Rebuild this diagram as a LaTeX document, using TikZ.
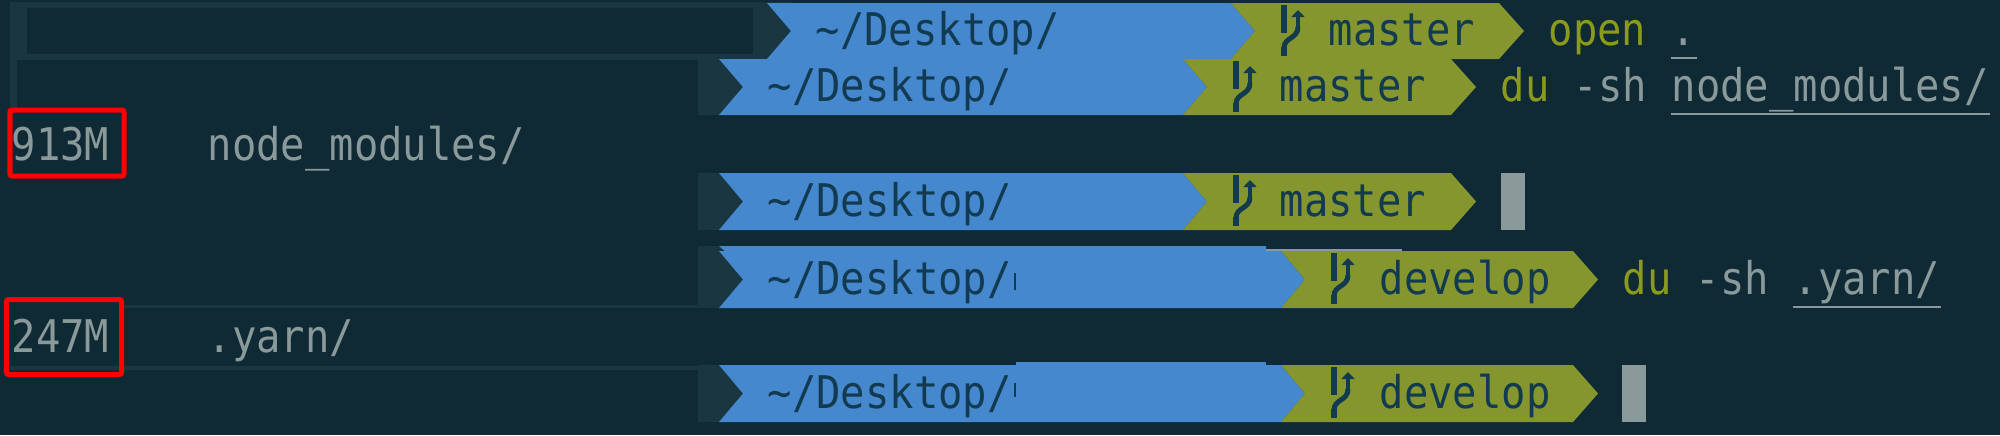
\documentclass[tikz,border=0pt]{standalone}
\usepackage{xcolor}
\usepackage{fontspec}
\setmonofont[FakeStretch=0.9]{DejaVu Sans Mono}
\usetikzlibrary{arrows.meta,calc}
\definecolor{termbg}{HTML}{0F2A35}
\definecolor{termband}{HTML}{1A3640}
\definecolor{dirblue}{HTML}{4688CE}
\definecolor{gitolive}{HTML}{86962E}
\definecolor{barink}{HTML}{123A50}
\definecolor{termgrey}{HTML}{8A9A9B}
\definecolor{cmdolive}{HTML}{8A9A1A}

\begin{document}
\begin{tikzpicture}[
    x=0.01cm, y=-0.01cm,
    termtext/.style={inner sep=0pt, anchor=base west, font=\ttfamily\fontsize{12.8}{15}\selectfont},
    plainout/.style={termtext, text=termgrey},
    cmdword/.style={termtext, text=cmdolive},
    bartext/.style={termtext, text=barink},
    bandfill/.style={fill=termband},
    underln/.style={draw=termgrey, line width=0.02cm},
    redbox/.style={draw=red, line width=0.05cm, rounded corners=0.02cm},
    branchup/.style={draw=barink, line width=0.04cm, -{Triangle[width=0.13cm,length=0.07cm]}},
    branchfat/.style={draw=barink, line width=0.06cm},
    branchbend/.style={draw=barink, line width=0.05cm}
]
    \fill [termbg] (0,0) rectangle (2000,435);
    \useasboundingbox (0,0) rectangle (2000,435);

    \fill [bandfill] (10,2) rectangle (792,60);
    \fill [termbg] (27,8) rectangle (753,54);
    \fill [bandfill] (10,60) rectangle (17,108);
    \fill [bandfill] (698,60) rectangle (743,115);
    \fill [bandfill] (698,173) rectangle (743,230);
    \fill [bandfill] (698,246) rectangle (743,308);
    \fill [bandfill] (698,365) rectangle (743,422);
    \fill [bandfill] (124,305) rectangle (719,308);
    \fill [bandfill] (10,366) rectangle (719,370);

    \foreach \n/\t/\b/\xa/\xb/\xc/\xp/\xt/\lbl in {
        1/3/59/767/1231/1499/815/1328/master,
        2/59/115/719/1183/1451/767/1279/master,
        3/173/230/719/1183/1451/767/1279/master,
        4/251/308/719/1281/1573/767/1379/develop,
        5/365/422/719/1281/1573/767/1379/develop} {
        \fill [dirblue] (\xa,\t) -- (\xb,\t) -- ({\xb+24},{(\t+\b)/2}) -- (\xb,\b) -- (\xa,\b) -- ({\xa+24},{(\t+\b)/2}) -- cycle;
        \fill [gitolive] (\xb,\t) -- (\xc,\t) -- ({\xc+25},{(\t+\b)/2}) -- (\xc,\b) -- (\xb,\b) -- ({\xb+24},{(\t+\b)/2}) -- cycle;
        \node [bartext] (dir\n) at (\xp,\b-14) {\textasciitilde/Desktop/};
        \node [bartext] (branch\n) at (\xt,\b-14) {\lbl};
        \begin{scope}[shift={(\xb+53,\t)}]
            \draw [branchfat] (0,2) -- (0,30);
            \draw [branchfat] (0,53) -- (0,44);
            \draw [branchbend] (0,45) .. controls (0,34) and (14,36) .. (14,24);
            \draw [branchup] (14,26) -- (14,7);
        \end{scope}
    }

    \fill [dirblue] (719,246) -- (1266,246) -- (1266,251) -- (1281,251) -- (726,252) -- cycle;
    \fill [dirblue] (1016,362) rectangle (1266,365);
    \fill [termgrey] (1266,248.5) rectangle (1402,250.5);
    \fill [barink] (1014,273) rectangle (1016,290);
    \fill [barink] (1014,383) rectangle (1016,397);

    \node [cmdword] (cmd1) at (1548,45) {open};
    \node [plainout] (arg1) at (1671,45) {.};
    \node [cmdword] (cmd2) at (1500,101) {du};
    \node [plainout] (opt2) at (1573,101) {-sh};
    \node [plainout] (arg2) at (1671,101) {node\_modules/};
    \node [cmdword] (cmd4) at (1622,294) {du};
    \node [plainout] (opt4) at (1695,294) {-sh};
    \node [plainout] (arg4) at (1793,294) {.yarn/};

    \draw [underln] ($(arg1.base west)+(0,13)$) -- ($(arg1.base east)+(0,13)$);
    \draw [underln] ($(arg2.base west)+(0,13)$) -- ($(arg2.base east)+(0,13)$);
    \draw [underln] ($(arg4.base west)+(0,13)$) -- ($(arg4.base east)+(0,13)$);

    \fill [termgrey] (1501,173) rectangle (1525,230);
    \fill [termgrey] (1622,365) rectangle (1646,422);

    \node [plainout] (size1) at (11,160) {913M};
    \node [plainout] (path1) at (207,160) {node\_modules/};
    \node [plainout] (size2) at (11,352) {247M};
    \node [plainout] (path2) at (207,352) {.yarn/};

    \draw [redbox] (10,110) rectangle (124,176);
    \draw [redbox] (6.5,299.5) rectangle (121.5,374.5);
\end{tikzpicture}
\end{document}
